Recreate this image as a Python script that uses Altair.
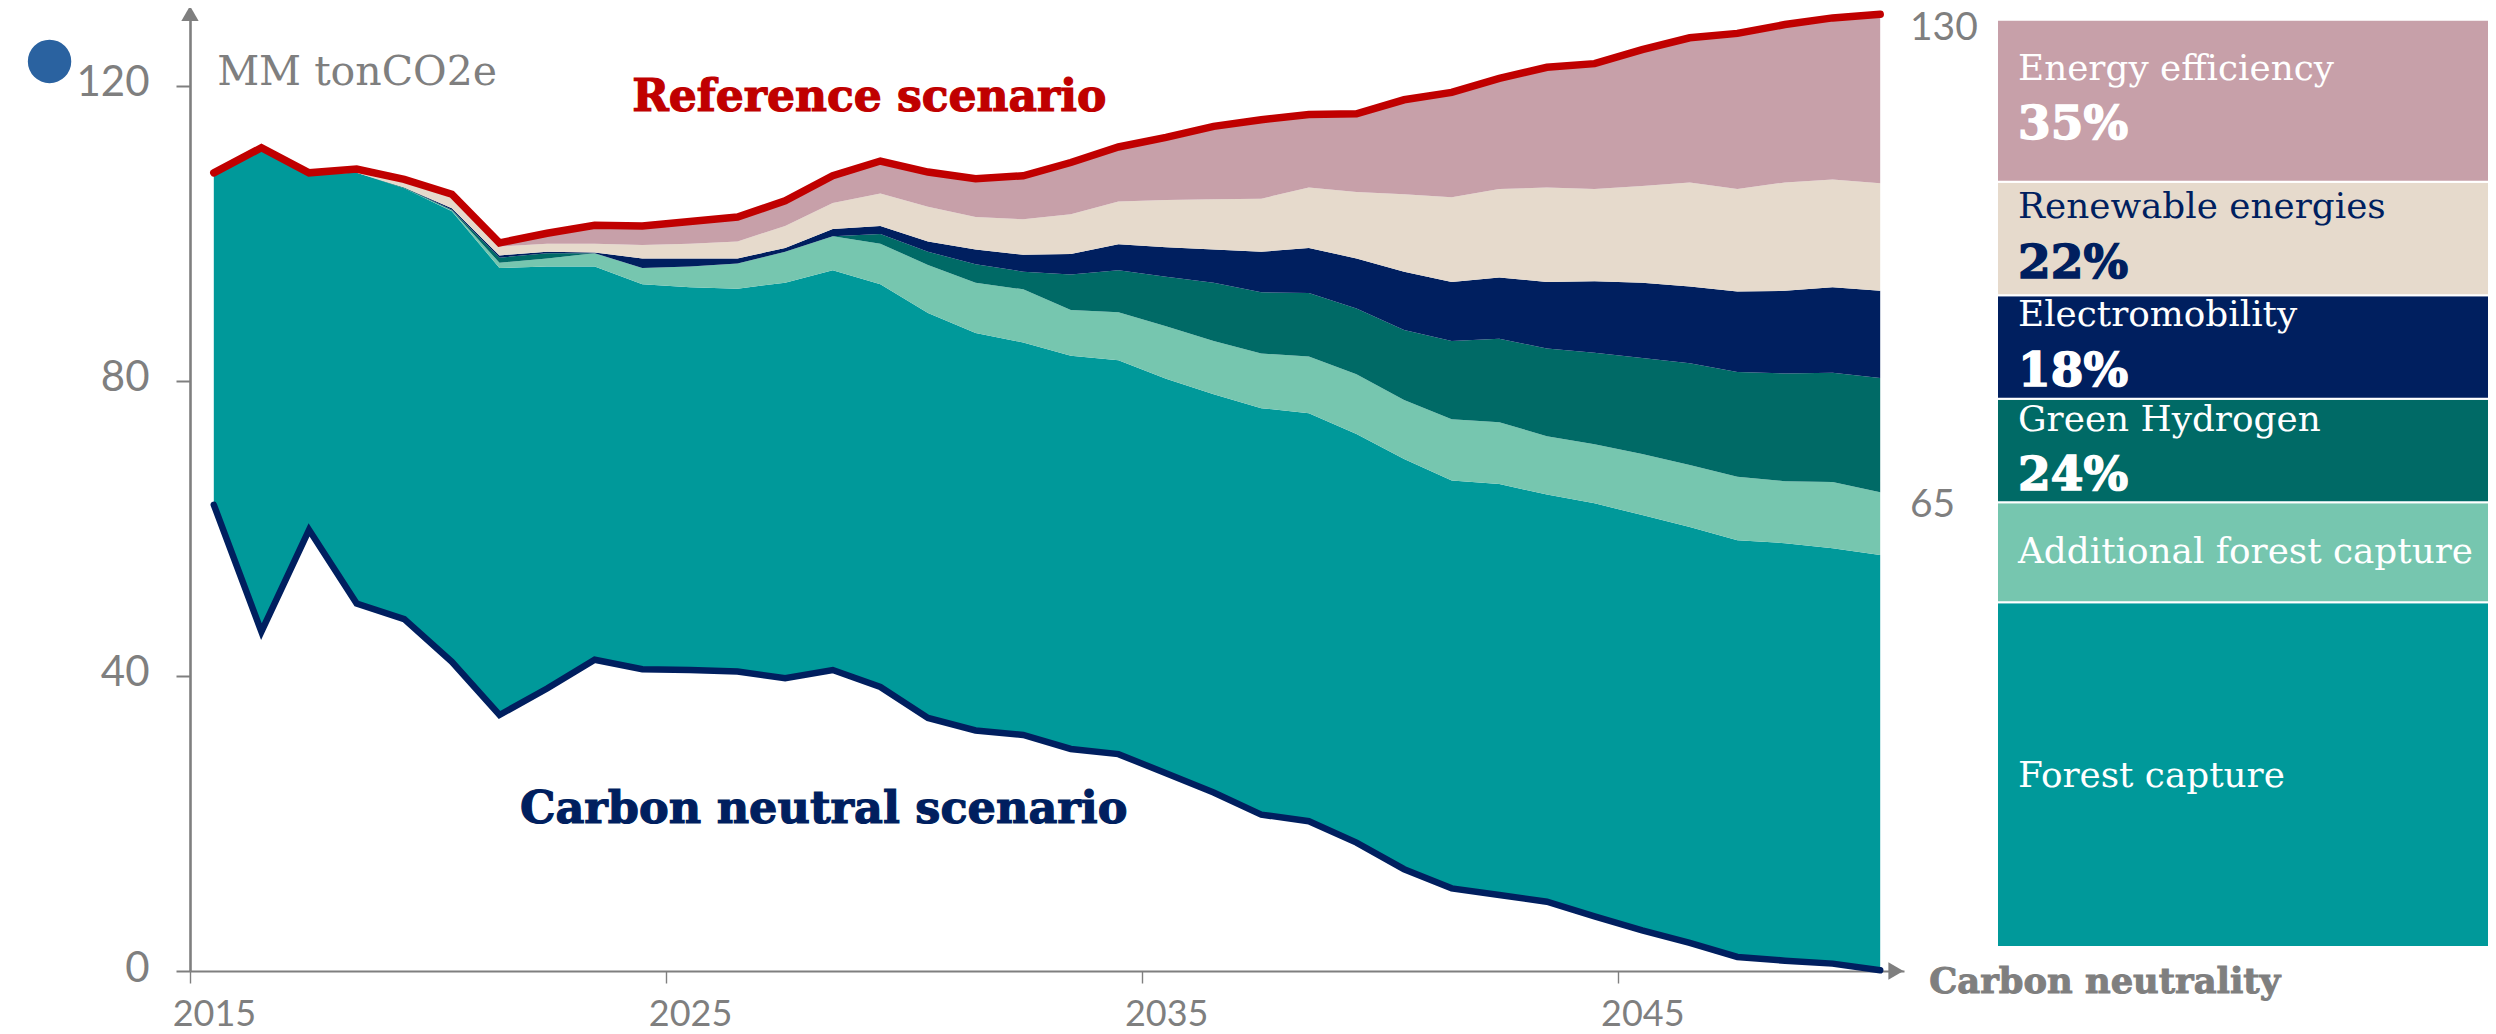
import altair as alt
import pandas as pd

years = list(range(2015, 2051))

reference = [108.2,111.6,108.2,108.7,107.3,105.3,98.7,100.0,101.1,101.0,101.6,102.2,104.4,107.8,109.8,108.3,107.4,107.8,
             109.6,111.7,113.0,114.5,115.4,116.1,116.2,118.1,119.1,121.0,122.5,123.0,124.9,126.5,127.1,128.3,129.2,129.7]
beige_top = [108.0,111.4,108.0,108.4,107.0,104.9,98.2,98.6,98.6,98.4,98.6,98.9,101.0,104.1,105.4,103.6,102.2,101.9,
             102.6,104.3,104.5,104.6,104.7,106.2,105.6,105.3,104.9,106.0,106.2,106.0,106.4,106.9,106.0,106.9,107.3,106.8]
navy_top = [108.0,111.4,108.0,108.2,106.2,103.4,97.0,97.5,97.4,96.6,96.6,96.6,98.0,100.6,101.0,98.9,97.8,97.1,
            97.2,98.5,98.1,97.8,97.5,98.0,96.6,94.8,93.4,94.0,93.4,93.5,93.3,92.8,92.1,92.2,92.7,92.2]
green_top = [108.0,111.4,108.0,108.2,106.2,103.2,96.7,97.3,97.3,95.3,95.5,95.9,97.5,99.6,99.9,97.5,95.8,94.8,
             94.4,95.0,94.1,93.3,92.0,91.9,89.8,86.9,85.4,85.7,84.4,83.8,83.1,82.4,81.2,81.0,81.1,80.4]
light_top = [108.0,111.4,108.0,108.2,106.1,103.1,96.0,96.6,97.3,95.3,95.5,95.9,97.5,99.6,98.6,95.7,93.3,92.4,
             89.6,89.3,87.4,85.4,83.7,83.3,80.9,77.4,74.8,74.4,72.5,71.4,70.1,68.6,67.0,66.4,66.3,64.9]
teal_top = [108.0,111.4,108.0,108.2,106.1,103.0,95.3,95.5,95.5,93.1,92.7,92.5,93.3,95.0,93.1,89.2,86.5,85.2,
            83.4,82.8,80.3,78.2,76.3,75.6,72.8,69.4,66.5,66.0,64.6,63.4,61.8,60.2,58.4,58.0,57.3,56.4]
neutral = [63.2,46.0,59.8,49.8,47.7,41.9,34.7,38.3,42.2,40.9,40.8,40.6,39.7,40.8,38.5,34.3,32.6,32.0,
           30.1,29.4,26.8,24.2,21.2,20.3,17.4,13.8,11.2,10.3,9.4,7.4,5.5,3.8,1.9,1.4,1.0,0.1]

panel_names = ["Forest capture","Additional forest capture","Green Hydrogen","Electromobility","Renewable energies","Energy efficiency"]
panel_sizes = [48.3,14.0,14.5,14.5,15.9,22.7]
panel_colors = ["#00999A","#76C6AF","#006A66","#001F5F","#E6DACC","#C7A0A9"]
panel_text_colors = ["white","white","white","white","#001F5F","white"]
panel_name_levels = [24.0,55.4,73.8,88.6,103.6,123.0]
panel_shares = ["","","24%","18%","22%","35%"]
panel_share_levels = [0,0,66.0,80.5,95.7,115.1]

GREY = "#7F7F7F"
SLAB = "DejaVu Serif"
NUM = "Lato"

df = pd.DataFrame(dict(year=years, reference=reference, beige=beige_top, navy=navy_top,
                       green=green_top, light=light_top, teal=teal_top, neutral=neutral))

xs = alt.Scale(domain=[2014.5, 2050.5])
ys = alt.Scale(domain=[0, 130])
X = alt.X("year:Q", scale=xs, title=None, axis=None)


def band(low, high, color):
    return alt.Chart(df).mark_area(color=color, opacity=1).encode(
        x=X,
        y=alt.Y(f"{low}:Q", scale=ys, axis=None),
        y2=alt.Y2(f"{high}:Q"),
    )


axes = alt.Chart(df).mark_line(opacity=0).encode(
    x=alt.X("year:Q", scale=xs, title=None, axis=alt.Axis(
        values=[2014.5, 2024.5, 2034.5, 2044.5],
        labelExpr="format(datum.value + 0.5, 'd')",
        labelOffset=24, labelFont=NUM, labelFontSize=36, labelColor=GREY, labelPadding=14,
        tickColor=GREY, tickSize=12, tickWidth=1.4, domainColor=GREY, domainWidth=2, grid=False,
        labelFlush=False, labelOverlap=False)),
    y=alt.Y("neutral:Q", scale=ys, title=None, axis=alt.Axis(
        values=[0, 40, 80, 120],
        labelFont=NUM, labelFontSize=42, labelColor=GREY, labelPadding=27, labelOffset=-3,
        tickColor=GREY, tickSize=14, tickWidth=2, domainColor=GREY, domainWidth=2.6, grid=False)),
)

bands = [
    band("neutral", "teal", "#00999A"),
    band("teal", "light", "#76C6AF"),
    band("light", "green", "#006A66"),
    band("green", "navy", "#001F5F"),
    band("navy", "beige", "#E6DACC"),
    band("beige", "reference", "#C7A0A9"),
]

ref_line = alt.Chart(df).mark_line(color="#C00000", strokeWidth=7.5, strokeCap="round", strokeJoin="miter").encode(
    x=X, y=alt.Y("reference:Q", scale=ys, axis=None))
neu_line = alt.Chart(df).mark_line(color="#001F5F", strokeWidth=6.5, strokeCap="round", strokeJoin="miter").encode(
    x=X, y=alt.Y("neutral:Q", scale=ys, axis=None))


def point(xv, yv, shape, size, color):
    return alt.Chart(pd.DataFrame({"a": [xv], "b": [yv]})).mark_point(
        shape=shape, size=size, filled=True, color=color, opacity=1).encode(
        x=alt.X("a:Q", scale=xs, axis=None), y=alt.Y("b:Q", scale=ys, axis=None))


def note(text, xv, yv, color, font, size, weight="normal", thick=0, **kw):
    return alt.Chart(pd.DataFrame({"a": [xv], "b": [yv], "t": [text]})).mark_text(
        align="left", baseline="middle", color=color, font=font, fontSize=size, fontWeight=weight,
        stroke=color, strokeWidth=thick, **kw).encode(
        x=alt.X("a:Q", scale=xs, axis=None), y=alt.Y("b:Q", scale=ys, axis=None), text="t:N")


main = alt.layer(
    *bands, ref_line, neu_line,
    point(2014.5, 129.8, "triangle-up", 300, GREY),
    point(2050.33, 0, "triangle-right", 300, GREY),
    point(2011.55, 123.3, "circle", 1886, "#2A62A0"),
    note("MM tonCO2e", 2015.07, 121.7, GREY, SLAB, 41),
    note("Reference scenario", 2023.79, 118.3, "#C00000", SLAB, 44, "bold", 1.2),
    note("Carbon neutral scenario", 2021.43, 21.8, "#001F5F", SLAB, 44.6, "bold", 1.2),
    note("Carbon neutrality", 2051.03, -1.5, GREY, SLAB, 35.3, "bold", 1),
    note("130", 2050.5, 130, GREY, NUM, 39, dx=6, dy=16),
    note("65", 2050.5, 65, GREY, NUM, 39, dx=6, dy=13),
)

tops, base = [], 0
bases = []
for s in panel_sizes:
    bases.append(base)
    base += s
    tops.append(base)

panel = pd.DataFrame(dict(name=panel_names, base=bases, top=tops, color=panel_colors, tc=panel_text_colors,
                          nl=panel_name_levels, share=panel_shares, sl=panel_share_levels, x0=[0]*6, x1=[1]*6))
pxs = alt.Scale(domain=[0, 1], range=[1807, 2302])
pys = alt.Scale(domain=[0, 130], range=[935, 7])

rects = alt.Chart(panel).mark_rect(stroke="white", strokeWidth=2).encode(
    x=alt.X("x0:Q", scale=pxs, axis=None), x2="x1:Q",
    y=alt.Y("base:Q", scale=pys, axis=None), y2="top:Q",
    color=alt.Color("color:N", scale=None))
names = alt.Chart(panel).mark_text(align="left", baseline="middle", dx=21, font=SLAB, fontSize=35.8).encode(
    x=alt.X("x0:Q", scale=pxs, axis=None), y=alt.Y("nl:Q", scale=pys, axis=None),
    text="name:N", color=alt.Color("tc:N", scale=None))
shares = alt.Chart(panel[panel.share != ""]).mark_text(
    align="left", baseline="middle", dx=21, font=SLAB, fontSize=47, fontWeight="bold", strokeWidth=1.5).encode(
    x=alt.X("x0:Q", scale=pxs, axis=None), y=alt.Y("sl:Q", scale=pys, axis=None),
    text="share:N", color=alt.Color("tc:N", scale=None), stroke=alt.Stroke("tc:N", scale=None))
side = alt.layer(rects, names, shares)

chart = alt.layer(axes, main, side).resolve_scale(x="independent", y="independent").properties(
    width=1714, height=959,
    padding={"left": 182, "top": 4, "right": 584, "bottom": 63},
    autosize=alt.AutoSizeParams(type="none"),
).configure_view(stroke=None)

chart.save("out.html", embed_options={"renderer": "svg", "actions": False})
